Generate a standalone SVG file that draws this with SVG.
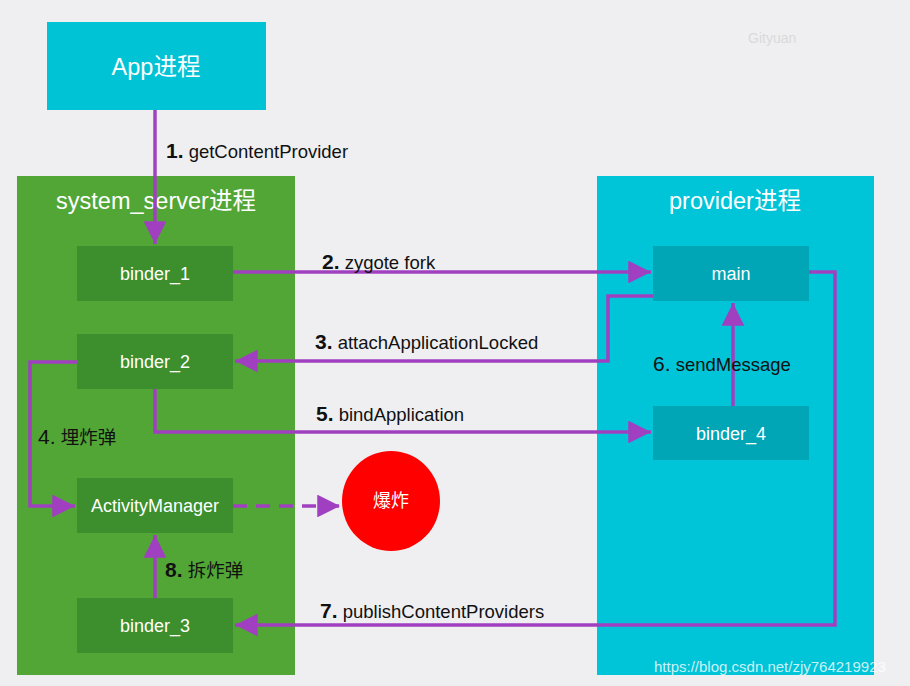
<svg xmlns="http://www.w3.org/2000/svg" width="910" height="686" viewBox="0 0 910 686">
<style>
  text { font-family: "Liberation Sans", "Noto Sans CJK SC", sans-serif; }
  .title { fill: #ffffff; font-size: 23.5px; text-anchor: middle; dominant-baseline: central; }
  .node { fill: #ffffff; font-size: 18px; text-anchor: middle; dominant-baseline: central; }
  .lbl { fill: #111111; font-size: 18.5px; }
  .num { font-weight: bold; font-size: 21px; }
  .numn { font-size: 21px; }
  .gbox { fill: #3c8f2c; }
  .cbox { fill: #00a5b6; }
  .conn { fill: none; stroke: #a040c0; stroke-width: 3.5; }
</style>
<defs>
  <marker id="ah" viewBox="0 0 10 10" refX="10" refY="5" markerWidth="6.5" markerHeight="6.5" markerUnits="strokeWidth" orient="auto">
    <path d="M0,0 L10,5 L0,10 z" fill="#a040c0"/>
  </marker>
</defs>
<rect x="0" y="0" width="910" height="686" fill="#efeff1"/>

<g id="app">
  <rect x="47" y="22" width="219" height="88" fill="#00c4d6"/>
  <text class="title" x="156" y="67">App进程</text>
</g>
<g id="system_server">
  <rect x="17" y="176" width="278" height="499" fill="#52a636"/>
  <text class="title" x="156" y="201">system_server进程</text>
</g>
<g id="provider">
  <rect x="597" y="176" width="277" height="499" fill="#00c4d8"/>
  <text class="title" x="735" y="201">provider进程</text>
</g>

<g id="binder_1"><rect class="gbox" x="77" y="246" width="156" height="55"/><text class="node" x="155" y="274">binder_1</text></g>
<g id="binder_2"><rect class="gbox" x="77" y="334" width="156" height="55"/><text class="node" x="155" y="362">binder_2</text></g>
<g id="activity_manager"><rect class="gbox" x="77" y="478" width="156" height="55"/><text class="node" x="155" y="506">ActivityManager</text></g>
<g id="binder_3"><rect class="gbox" x="77" y="598" width="156" height="55"/><text class="node" x="155" y="626">binder_3</text></g>
<g id="main"><rect class="cbox" x="653" y="246" width="156" height="55"/><text class="node" x="731" y="274">main</text></g>
<g id="binder_4"><rect class="cbox" x="653" y="406" width="156" height="54"/><text class="node" x="731" y="434">binder_4</text></g>
<g id="explode">
  <ellipse cx="391" cy="501" rx="49" ry="50" fill="#ff0000"/>
  <text class="node" x="391" y="501">爆炸</text>
</g>

<g id="connectors">
  <path class="conn" d="M155,110 V244" marker-end="url(#ah)"/>
  <path class="conn" d="M233,272 H651" marker-end="url(#ah)"/>
  <path class="conn" d="M653,296 H608 V361 H235" marker-end="url(#ah)"/>
  <path class="conn" d="M77,362 H30 V506 H75" marker-end="url(#ah)"/>
  <path class="conn" d="M155,389 V432 H651" marker-end="url(#ah)"/>
  <path class="conn" d="M733,406 V303" marker-end="url(#ah)"/>
  <path class="conn" d="M809,272 H835 V625 H235" marker-end="url(#ah)"/>
  <path class="conn" d="M155,598 V535" marker-end="url(#ah)"/>
  <path class="conn" d="M233,506 H340" stroke-dasharray="14 9" marker-end="url(#ah)"/>
</g>

<g id="labels">
  <text class="lbl" x="166" y="158"><tspan class="num">1.</tspan> getContentProvider</text>
  <text class="lbl" x="322" y="269"><tspan class="num">2.</tspan> zygote fork</text>
  <text class="lbl" x="315" y="349"><tspan class="num">3.</tspan> attachApplicationLocked</text>
  <text class="lbl" x="38" y="444"><tspan class="numn">4.</tspan> 埋炸弹</text>
  <text class="lbl" x="316" y="421"><tspan class="num">5.</tspan> bindApplication</text>
  <text class="lbl" x="653" y="371" fill="#0d2a38"><tspan class="numn">6.</tspan> sendMessage</text>
  <text class="lbl" x="320" y="618"><tspan class="num">7.</tspan> publishContentProviders</text>
  <text class="lbl" x="165" y="577"><tspan class="num">8.</tspan> 拆炸弹</text>
</g>

<text x="748" y="43" font-size="14" fill="#d9d9db">Gityuan</text>
<text x="654" y="672" font-size="15" fill="#ffffff" fill-opacity="0.8">https://blog.csdn.net/zjy764219923</text>
</svg>
